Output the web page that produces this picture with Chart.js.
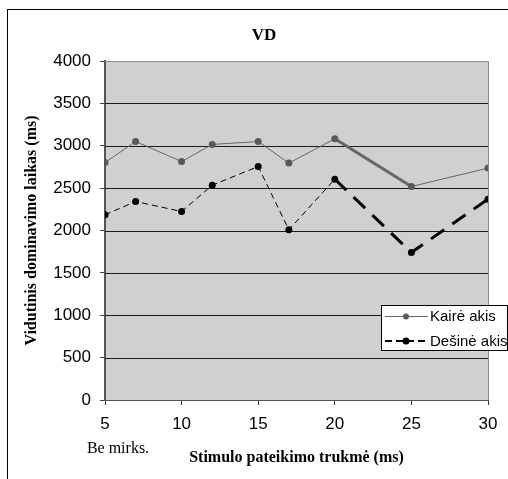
<!DOCTYPE html>
<html>
<head>
<meta charset="utf-8">
<script src="https://cdn.jsdelivr.net/npm/chart.js@4.4.1/dist/chart.umd.min.js"></script>
<style>
  body { margin: 0; background: #fff; }
  #wrap { width: 508px; height: 479px; }
</style>
</head>
<body>
<div id="wrap"><canvas id="myChart" width="508" height="479"></canvas></div>
<script>
// stimulus duration (ms) and mean dominance time (ms)
var durations = [5, 7, 10, 12, 15, 17, 20, 25, 30];
var leftEye = [2802, 3050, 2814, 3015, 3050, 2795, 3082, 2519, 2736];
var rightEye = [2185, 2342, 2224, 2535, 2755, 2008, 2606, 1740, 2370];
var seriesNames = ["Kairė akis", "Dešinė akis"];
var yTicks = [0, 500, 1000, 1500, 2000, 2500, 3000, 3500, 4000];
var xTicks = [5, 10, 15, 20, 25, 30];

var serif = "'Liberation Serif', 'Times New Roman', serif";
var sans = "'Liberation Sans', Arial, sans-serif";

function pts(ys) {
  return durations.map(function (d, i) { return {x: d, y: ys[i]}; });
}

// grey plot area, gridlines, frame, legend box, "Be mirks." note
const decor = {
  id: 'decor',
  beforeDraw(chart) {
    const {ctx, chartArea: a} = chart;
    ctx.save();
    ctx.fillStyle = '#d0d0d0';
    ctx.fillRect(a.left, a.top, a.right - a.left, a.bottom - a.top);
    ctx.restore();
  },
  beforeDatasetsDraw(chart) {
    const {ctx, chartArea: a} = chart;
    const ys = chart.scales.y;
    ctx.save();
    ctx.strokeStyle = '#1a1a1a';
    ctx.lineWidth = 1;
    ys.ticks.forEach(t => {
      if (t.value <= ys.min || t.value >= ys.max) return;
      const py = Math.round(ys.getPixelForValue(t.value)) + 0.5;
      ctx.beginPath();
      ctx.moveTo(a.left, py);
      ctx.lineTo(a.right, py);
      ctx.stroke();
    });
    ctx.strokeStyle = '#8c8c8c';
    ctx.beginPath();
    ctx.moveTo(a.left, a.top + 0.5);
    ctx.lineTo(a.right + 0.5, a.top + 0.5);
    ctx.lineTo(a.right + 0.5, a.bottom);
    ctx.stroke();
    ctx.restore();
  },
  afterDraw(chart) {
    const ctx = chart.ctx;
    ctx.save();
    // outer frame, cut off at right and bottom
    ctx.strokeStyle = '#000';
    ctx.lineWidth = 1;
    ctx.strokeRect(7.5, 9.5, 700, 700);

    // note under first tick
    const x5 = chart.scales.x.getPixelForValue(xTicks[0]);
    ctx.fillStyle = '#000';
    ctx.font = '16px ' + serif;
    ctx.textAlign = 'center';
    ctx.textBaseline = 'middle';
    ctx.fillText('Be mirks.', x5 + 13, 449);

    // legend
    ctx.fillStyle = '#fff';
    ctx.fillRect(381, 305, 127, 46);
    ctx.strokeStyle = '#000';
    ctx.strokeRect(381.5, 305.5, 126, 45);

    ctx.strokeStyle = '#666';
    ctx.lineWidth = 1;
    ctx.beginPath(); ctx.moveTo(385, 316.5); ctx.lineTo(428, 316.5); ctx.stroke();
    ctx.fillStyle = '#5a5a5a';
    ctx.beginPath(); ctx.arc(406, 316.5, 3, 0, Math.PI * 2); ctx.fill();

    ctx.strokeStyle = '#000';
    ctx.lineWidth = 2;
    ctx.setLineDash([7, 4]);
    ctx.beginPath(); ctx.moveTo(385, 341); ctx.lineTo(428, 341); ctx.stroke();
    ctx.setLineDash([]);
    ctx.fillStyle = '#000';
    ctx.beginPath(); ctx.arc(406, 341, 3.5, 0, Math.PI * 2); ctx.fill();

    ctx.font = '15px ' + sans;
    ctx.textAlign = 'left';
    ctx.fillText(seriesNames[0], 430, 317);
    ctx.fillText(seriesNames[1], 430, 342);
    ctx.restore();
  }
};

const ctx = document.getElementById('myChart').getContext('2d');
let myChart = new Chart(ctx, {
  type: 'line',
  data: {
    datasets: [{
      label: seriesNames[0],
      data: pts(leftEye),
      borderColor: '#666',
      backgroundColor: '#5a5a5a',
      pointBackgroundColor: '#5a5a5a',
      pointBorderWidth: 0,
      pointRadius: 3.5,
      borderWidth: 1,
      segment: {
        borderWidth: c => (c.p0.parsed.x == 20 ? 3 : 1)
      }
    }, {
      label: seriesNames[1],
      data: pts(rightEye),
      borderColor: '#000',
      backgroundColor: '#000',
      pointBackgroundColor: '#000',
      pointBorderWidth: 0,
      pointRadius: 3.5,
      borderWidth: 1,
      borderDash: [6, 4],
      segment: {
        borderWidth: c => (c.p0.parsed.x >= 20 ? 3 : 1),
        borderDash: c => (c.p0.parsed.x >= 20 ? [16, 10] : [6, 4])
      }
    }]
  },
  options: {
    responsive: false,
    animation: false,
    layout: { padding: {left: 20, right: 0, top: 0, bottom: 0} },
    scales: {
      x: {
        type: 'linear',
        min: 5,
        max: 30,
        afterBuildTicks: s => { s.ticks = xTicks.map(v => ({value: v})); },
        afterFit: s => { s.height = 79; },
        ticks: { color: '#000', font: {family: sans, size: 17}, padding: 9, maxRotation: 0,
                 callback: v => String(v) },
        grid: { drawOnChartArea: false, tickLength: 5, color: '#333' },
        border: { color: '#555', width: 1 },
        title: {
          display: true,
          text: 'Stimulo pateikimo trukmė (ms)',
          color: '#000',
          font: {family: serif, size: 16, weight: 'bold'},
          padding: {top: 0, bottom: 12}
        }
      },
      y: {
        min: 0,
        max: 4000,
        afterBuildTicks: s => { s.ticks = yTicks.map(v => ({value: v})); },
        afterFit: s => { s.width = 85; },
        ticks: { color: '#000', font: {family: sans, size: 17}, padding: 9,
                 callback: v => String(v) },
        grid: { drawOnChartArea: false, tickLength: 5, color: '#444' },
        border: { color: '#555', width: 2 },
        title: {
          display: true,
          text: 'Vidutinis dominavimo laikas (ms)',
          color: '#000',
          font: {family: serif, size: 16, weight: 'bold'},
          padding: {top: 2, bottom: 0}
        }
      },
      spacer: {
        type: 'linear',
        position: 'right',
        display: true,
        ticks: { display: false },
        grid: { display: false },
        border: { display: false },
        afterFit: s => { s.width = 20; }
      }
    },
    plugins: {
      legend: { display: false },
      tooltip: { enabled: false },
      title: {
        display: true,
        text: 'VD',
        color: '#000',
        font: {family: serif, size: 17, weight: 'bold'},
        padding: {top: 25, bottom: 15.6}
      }
    }
  },
  plugins: [decor]
});
</script>
</body>
</html>
